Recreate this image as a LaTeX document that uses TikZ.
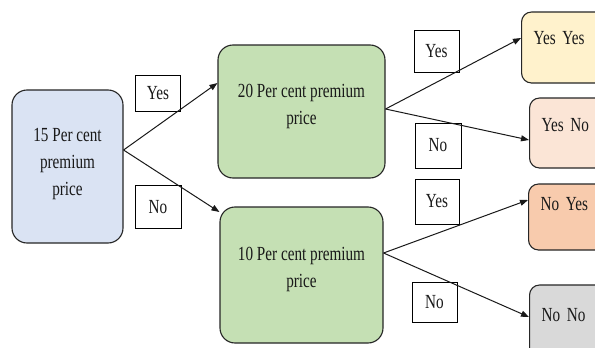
\documentclass[tikz,border=0pt]{standalone}
\usepackage{fontspec}
\setmainfont{Liberation Serif}[FakeStretch=0.76]
\usetikzlibrary{arrows.meta}
\definecolor{bord}{HTML}{262626}
\definecolor{cblue}{HTML}{DAE3F3}
\definecolor{cgreen}{HTML}{C5E0B4}
\definecolor{cyy}{HTML}{FFF2CC}
\definecolor{cyn}{HTML}{FBE5D6}
\definecolor{cny}{HTML}{F8CBAD}
\definecolor{cnn}{HTML}{D9D9D9}
\tikzset{
  every node/.style={font=\fontsize{20}{27}\selectfont, text=black!90},
  mainbox/.style={draw=bord, line width=1.1pt, rounded corners=15pt, align=center, inner sep=0pt},
  leafbox/.style={draw=bord, line width=1.1pt, rounded corners=10pt, inner xsep=12pt, inner ysep=0pt,
    text width=120pt, align=left, minimum width=144pt},
  lab/.style={draw=black, line width=0.9pt, fill=white, inner sep=0pt},
  conn/.style={draw=black!90, line width=1pt, -{Triangle[length=8pt,width=6pt]}}
}
\begin{document}
\begin{tikzpicture}[x=1pt,y=-1pt]
\useasboundingbox (0,0) rectangle (595,348);
\clip (0,0) rectangle (595,348);
\fill[white] (0,0) rectangle (595,348);
% main boxes
\node[mainbox, fill=cblue, minimum width=111pt, minimum height=153pt, text depth=10pt] (a) at (67.5,166.5) {15 Per cent\\premium\\price};
\node[mainbox, fill=cgreen, minimum width=167pt, minimum height=133pt, text depth=14pt] (b) at (301.5,111.5) {20 Per cent premium\\price};
\node[mainbox, fill=cgreen, minimum width=163pt, minimum height=136pt, text depth=16pt] (c) at (301.5,275) {10 Per cent premium\\price};
% leaves
\node[leafbox, fill=cyy, minimum height=71pt, text depth=20pt, anchor=west] (yy) at (521,47.5) {Yes Yes};
\node[leafbox, fill=cyn, minimum height=70pt, text depth=16pt, anchor=west] (yn) at (529,133) {Yes No};
\node[leafbox, fill=cny, minimum height=66pt, text depth=26pt, anchor=west] (ny) at (528,217) {No Yes};
\node[leafbox, fill=cnn, minimum height=80pt, text depth=20pt, anchor=west] (nn) at (529,325) {No No};
% labels
\node[lab, minimum width=45pt, minimum height=36pt] (l1) at (158,93) {Yes};
\node[lab, minimum width=46pt, minimum height=43pt] (l2) at (158,207) {No};
\node[lab, minimum width=45pt, minimum height=42pt] (l3) at (436.5,51) {Yes};
\node[lab, minimum width=46pt, minimum height=45pt] (l4) at (438,145.5) {No};
\node[lab, minimum width=44pt, minimum height=45pt] (l5) at (437,201.5) {Yes};
\node[lab, minimum width=45pt, minimum height=40pt] (l6) at (434.5,302) {No};
% connectors
\draw[conn] (a.east |- 0,150) -- (b.west |- 0,83);
\draw[conn] (a.east |- 0,150) -- (c.west |- 0,212);
\draw[conn] (b.east |- 0,109) -- (yy.west |- 0,38);
\draw[conn] (b.east |- 0,109) -- (yn.west |- 0,140);
\draw[conn] (c.east |- 0,253) -- (ny.west |- 0,200);
\draw[conn] (c.east |- 0,253) -- (nn.west |- 0,317);
\end{tikzpicture}
\end{document}
